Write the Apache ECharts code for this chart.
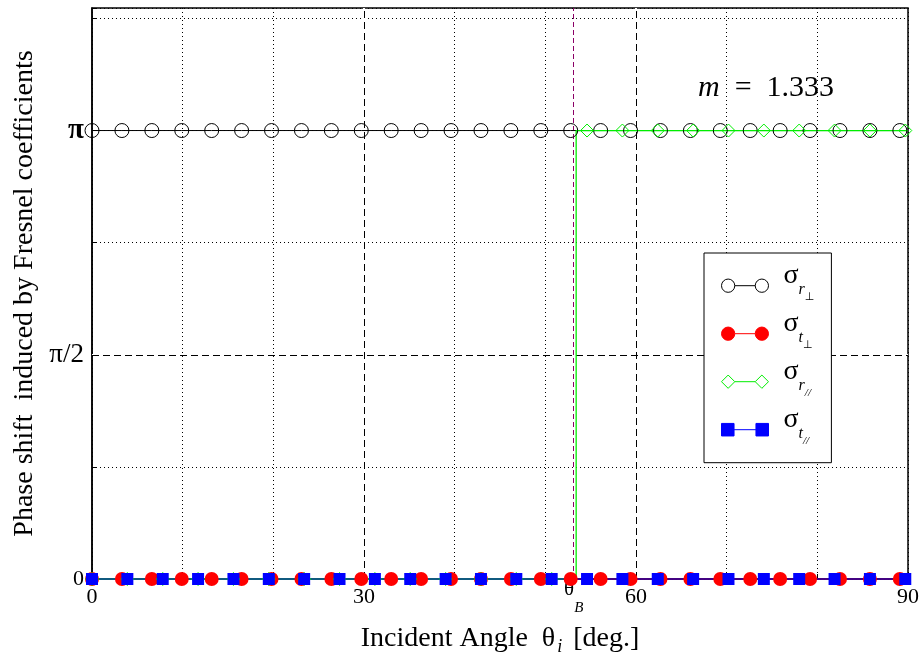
<!DOCTYPE html>
<html><head><meta charset="utf-8">
<script src="https://cdn.jsdelivr.net/npm/echarts@6/dist/echarts.min.js"></script>
<style>html,body{margin:0;padding:0;background:#fff}#c{width:924px;height:664px}</style>
</head><body><div id="c"></div>
<script>
const PI = Math.PI;
const FONT = "'Liberation Serif', 'Times New Roman', serif";

// Brewster angle (deg) for m = 1.333 and where the sampled r// curve jumps
const thetaB = 53.13;
const rParJumpX = 53.4;

// axis tick labels
const xTickValues = [0, 30, 53.13, 60, 90];
const yTickValues = [0, PI / 2, PI];
const yTickTexts = ['0', 'π/2', 'π'];

// series names
const seriesNames = ['σr⊥', 'σt⊥', 'σr//', 'σt//'];

// perpendicular-polarisation samples (markers every ~3.3 deg, line to 90)
const xPerp = [0, 3.3, 6.6, 9.9, 13.2, 16.5, 19.8, 23.1, 26.4, 29.7, 33, 36.3, 39.6, 42.9, 46.2,
  49.5, 52.8, 56.1, 59.4, 62.7, 66, 69.3, 72.6, 75.9, 79.2, 82.5, 85.8, 89.1, 90];
const sigmaRPerp = [PI, PI, PI, PI, PI, PI, PI, PI, PI, PI, PI, PI, PI, PI, PI,
  PI, PI, PI, PI, PI, PI, PI, PI, PI, PI, PI, PI, PI, PI];
const sigmaTPerp = [0, 0, 0, 0, 0, 0, 0, 0, 0, 0, 0, 0, 0, 0, 0,
  0, 0, 0, 0, 0, 0, 0, 0, 0, 0, 0, 0, 0, 0];

// parallel-polarisation samples (markers every ~3.9 deg, line to 90)
const xPar = [0, 3.9, 7.8, 11.7, 15.6, 19.5, 23.4, 27.3, 31.2, 35.1, 39, 42.9, 46.8, 50.7,
  54.6, 58.5, 62.4, 66.3, 70.2, 74.1, 78, 81.9, 85.8, 89.7, 90];
const sigmaRPar = [0, 0, 0, 0, 0, 0, 0, 0, 0, 0, 0, 0, 0, 0,
  PI, PI, PI, PI, PI, PI, PI, PI, PI, PI, PI];
const sigmaTPar = [0, 0, 0, 0, 0, 0, 0, 0, 0, 0, 0, 0, 0, 0,
  0, 0, 0, 0, 0, 0, 0, 0, 0, 0, 0];

function item(x, y) {
  return x === 90 ? { value: [x, y], symbol: 'none' } : [x, y];
}
function build(xs, ys, jumpX) {
  const out = [];
  for (let i = 0; i < xs.length; i++) {
    if (jumpX !== undefined && i > 0 && xs[i - 1] < jumpX && xs[i] > jumpX) {
      out.push({ value: [jumpX, ys[i - 1]], symbol: 'none' });
      out.push({ value: [jumpX, ys[i]], symbol: 'none' });
    }
    out.push(item(xs[i], ys[i]));
  }
  return out;
}

const legendText = {
  'σr⊥': '{s|σ}{sub|r}{perp|⊥}',
  'σt⊥': '{s|σ}{sub|t}{perp|⊥}',
  'σr//': '{s|σ}{sub|r}{par|//}',
  'σt//': '{s|σ}{sub|t}{par|//}'
};

const iconCircle = 'path://M0.5,7A6.5,6.5,0,1,1,13.5,7A6.5,6.5,0,1,1,0.5,7ZM13.5,7L33.5,7M33.5,7A6.5,6.5,0,1,1,46.5,7A6.5,6.5,0,1,1,33.5,7Z';
const iconDiamond = 'path://M0.5,7L7,0.5L13.5,7L7,13.5ZM13.5,7L33.5,7M33.5,7L40,0.5L46.5,7L40,13.5Z';
const iconSquare = 'path://M1,1L13,1L13,13L1,13ZM13,7L34,7M34,1L46,1L46,13L34,13Z';

const dotted = { color: '#000', type: [1, 3], width: 1 };
const dashed = { color: '#000', type: [7, 4], width: 1 };
const whiteUnder = { color: '#fff', type: 'solid', width: 2 };

const common = {
  type: 'line', showAllSymbol: true, clip: false, animation: false,
  emphasis: { disabled: true }, silent: true
};

const chart = echarts.init(document.getElementById('c'));
chart.setOption({
  backgroundColor: '#fff',
  animation: false,
  grid: {
    left: 92, right: 16, top: 8, bottom: 85,
    show: true, borderColor: '#000', borderWidth: 1.5, backgroundColor: 'transparent',
    outerBoundsMode: 'none'
  },
  xAxis: {
    type: 'value', min: 0, max: 90, interval: 10,
    name: '{a|Incident Angle  θ}{i|i}{a| [deg.]}',
    nameLocation: 'middle', nameGap: 46,
    nameTextStyle: {
      color: '#000', fontFamily: FONT,
      rich: {
        a: { fontFamily: FONT, fontSize: 28, color: '#000', verticalAlign: 'top' },
        i: { fontFamily: FONT, fontSize: 18, fontStyle: 'italic', color: '#000', verticalAlign: 'top', padding: [13, 4, 0, 2] }
      }
    },
    axisLine: { show: true, onZero: false, lineStyle: { color: '#000', width: 1.5 } },
    axisTick: { show: true, inside: true, length: 5, lineStyle: { color: '#000' } },
    axisLabel: {
      customValues: xTickValues,
      margin: 0,
      formatter: function (v) {
        if (Math.abs(v - thetaB) < 1e-6) return '{t|θ}{b|B}';
        return xTickValues.indexOf(v) >= 0 ? '{n|' + v + '}' : '';
      },
      rich: {
        n: { fontFamily: FONT, fontSize: 22, color: '#000', verticalAlign: 'top', padding: [7, 0, 0, 0] },
        t: { fontFamily: FONT, fontSize: 21, color: '#000', verticalAlign: 'top' },
        b: { fontFamily: FONT, fontSize: 15, fontStyle: 'italic', color: '#000', verticalAlign: 'top', padding: [22, 0, 0, 0] }
      }
    },
    splitLine: { show: true, lineStyle: dotted }
  },
  yAxis: {
    type: 'value', min: 0, max: 4, interval: PI / 4,
    name: 'Phase shift  induced by Fresnel coefficients',
    nameLocation: 'middle', nameRotate: 90, nameGap: 53,
    nameTextStyle: { color: '#000', fontFamily: FONT, fontSize: 28 },
    axisLine: { show: true, onZero: false, lineStyle: { color: '#000', width: 1.5 } },
    axisTick: { show: true, inside: true, length: 5, lineStyle: { color: '#000' } },
    axisLabel: {
      customValues: yTickValues,
      margin: 8,
      formatter: function (v) {
        for (let i = 0; i < yTickValues.length; i++) {
          if (Math.abs(v - yTickValues[i]) < 1e-6) {
            return '{' + ['z', 'h', 'p'][i] + '|' + yTickTexts[i] + '}';
          }
        }
        return '';
      },
      rich: {
        z: { fontFamily: FONT, fontSize: 22, color: '#000' },
        h: { fontFamily: FONT, fontSize: 27, color: '#000' },
        p: { fontFamily: FONT, fontSize: 29, fontWeight: 'bold', color: '#000' }
      }
    },
    splitLine: { show: true, lineStyle: dotted }
  },
  legend: {
    orient: 'vertical', left: 704, top: 253,
    padding: [8.7, 17, 16, 17], itemGap: 7,
    itemWidth: 47, itemHeight: 14,
    backgroundColor: '#fff', borderColor: '#000', borderWidth: 1, borderRadius: 0,
    selectedMode: false,
    formatter: function (name) { return legendText[name]; },
    textStyle: {
      color: '#000', fontFamily: FONT,
      rich: {
        s: { fontFamily: FONT, fontSize: 28, color: '#000', verticalAlign: 'top', padding: [0, 0, 20, 10] },
        sub: { fontFamily: FONT, fontSize: 16, fontStyle: 'italic', color: '#000', verticalAlign: 'top', padding: [20, 0, 0, 0] },
        perp: { fontFamily: 'DejaVu Sans', fontSize: 11, color: '#000', verticalAlign: 'top', padding: [30, 0, 0, 0] },
        par: { fontFamily: FONT, fontSize: 11, fontStyle: 'italic', color: '#000', verticalAlign: 'top', padding: [30, 0, 0, 0] }
      }
    },
    data: [
      { name: seriesNames[0], icon: iconCircle, itemStyle: { color: '#fff', borderColor: '#000', borderWidth: 1 } },
      { name: seriesNames[1], icon: iconCircle, itemStyle: { color: '#ff0000', borderColor: '#ff0000', borderWidth: 1 } },
      { name: seriesNames[2], icon: iconDiamond, itemStyle: { color: '#fff', borderColor: '#00ee00', borderWidth: 1 } },
      { name: seriesNames[3], icon: iconSquare, itemStyle: { color: '#0000ff', borderColor: '#0000ff', borderWidth: 1 } }
    ]
  },
  graphic: [{
    type: 'text', x: 698, y: 88, silent: true,
    style: {
      text: '{m|m}{r|  =  1.333}',
      verticalAlign: 'middle',
      rich: {
        m: { fontFamily: FONT, fontSize: 30, fontStyle: 'italic', fill: '#000' },
        r: { fontFamily: FONT, fontSize: 30, fill: '#000' }
      }
    }
  }],
  series: [
    {
      type: 'line', data: [], silent: true, z: 1,
      markLine: {
        silent: true, z: 1, symbol: ['none', 'none'], label: { show: false }, animation: false,
        emphasis: { disabled: true },
        data: [
          { xAxis: 30, lineStyle: whiteUnder },
          { xAxis: 60, lineStyle: whiteUnder },
          { yAxis: PI / 2, lineStyle: whiteUnder },
          { xAxis: 30, lineStyle: dashed },
          { xAxis: 60, lineStyle: dashed },
          { yAxis: PI / 2, lineStyle: dashed },
          { xAxis: thetaB, lineStyle: { color: '#8b0066', type: [5, 3], width: 1 } }
        ]
      }
    },
    Object.assign({}, common, {
      name: seriesNames[0], data: build(xPerp, sigmaRPerp),
      symbol: 'circle', symbolSize: 14,
      lineStyle: { color: '#000', width: 1 },
      itemStyle: { color: 'rgba(0,0,0,0)', borderColor: '#000', borderWidth: 1 }
    }),
    Object.assign({}, common, {
      name: seriesNames[1], data: build(xPerp, sigmaTPerp),
      symbol: 'circle', symbolSize: 14,
      lineStyle: { color: '#ff0000', width: 1 },
      itemStyle: { color: '#ff0000', borderColor: '#ff0000', borderWidth: 0 }
    }),
    Object.assign({}, common, {
      name: seriesNames[2], data: build(xPar, sigmaRPar, rParJumpX),
      symbol: 'diamond', symbolSize: 13,
      lineStyle: { color: '#00ee00', width: 1.3 },
      itemStyle: { color: 'rgba(0,0,0,0)', borderColor: '#00ee00', borderWidth: 1 }
    }),
    Object.assign({}, common, {
      name: seriesNames[3], data: build(xPar, sigmaTPar),
      symbol: 'rect', symbolSize: 12,
      lineStyle: { color: '#0000ff', width: 1 },
      itemStyle: { color: '#0000ff', borderColor: '#0000ff', borderWidth: 0 }
    })
  ]
});
</script>
</body></html>
